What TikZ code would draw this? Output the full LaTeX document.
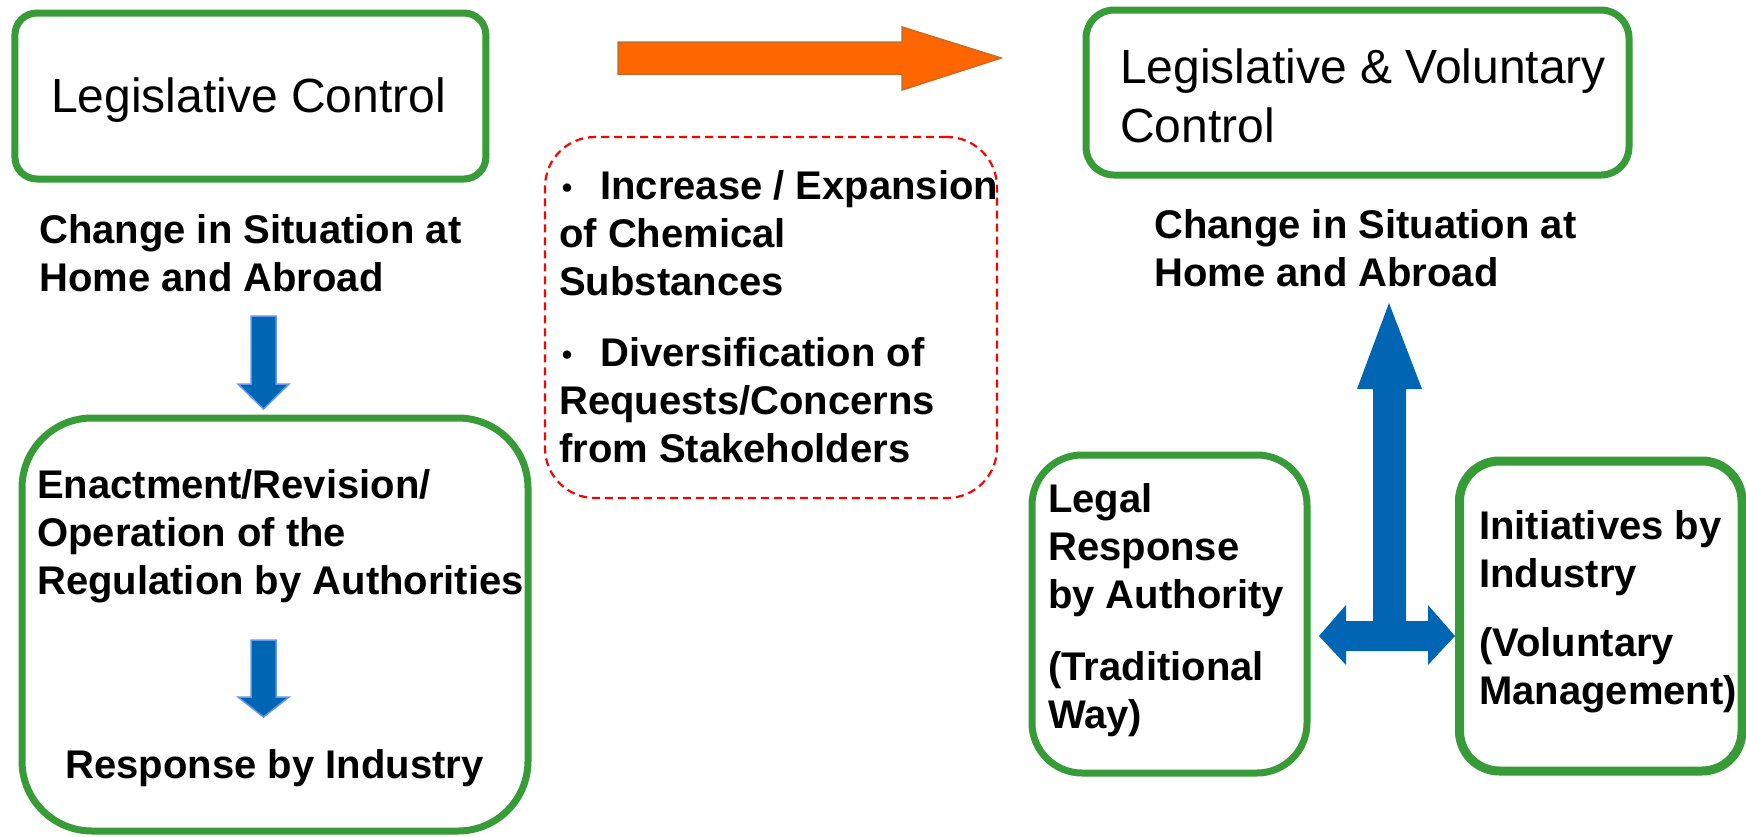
\documentclass[tikz,border=0pt]{standalone}
\usepackage{fontspec}
\setmainfont{Liberation Sans}
\newfontfamily\cjk{Noto Sans CJK JP}
\definecolor{boxgreen}{RGB}{55,155,55}
\definecolor{arrowblue}{RGB}{0,102,179}
\definecolor{arrowedge}{RGB}{100,150,240}
\definecolor{orangefill}{RGB}{255,102,0}
\definecolor{orangeedge}{RGB}{205,105,35}
\newcommand{\tl}[1]{\begin{tabular}[t]{@{}l@{}}#1\end{tabular}}
\newcommand{\bulletdot}{\makebox[41pt][l]{\hspace{-7pt}{\cjk\fontsize{30}{30}\selectfont ・}}}
\tikzset{
  gbox/.style={draw=boxgreen, line width=7pt, fill=white, inner sep=0pt},
  redbox/.style={draw=red, line width=2.2pt, dash pattern=on 8pt off 5pt, inner sep=0pt},
  boldtxt/.style={inner sep=0pt, font=\fontsize{40}{48}\selectfont\bfseries},
  regtxt/.style={inner sep=0pt, font=\fontsize{48}{58}\selectfont},
  downarrow/.style={fill=arrowblue, draw=arrowedge, line width=1.5pt, line join=miter},
  bigarrow/.style={fill=arrowblue, draw=none},
  orangearrow/.style={fill=orangefill, draw=orangeedge, line width=1.5pt, line join=miter}
}
\begin{document}
\begin{tikzpicture}[x=1pt,y=-1pt]
\useasboundingbox (0,0) rectangle (1746,836);
\fill[white] (0,0) rectangle (1746,836);

% boxes
\node[gbox, rounded corners=22pt, minimum width=471pt, minimum height=166pt] (legctrl) at (250.4,96) {};
\node[gbox, rounded corners=70pt, minimum width=506pt, minimum height=413pt] (regbox) at (275,624.5) {};
\node[gbox, rounded corners=28pt, minimum width=543pt, minimum height=165pt] (legvol) at (1357.5,92.5) {};
\node[gbox, rounded corners=50pt, minimum width=275pt, minimum height=318pt] (legal) at (1169.5,614) {};
\node[gbox, line width=9pt, rounded corners=40pt, minimum width=282.5pt, minimum height=310pt] (initiatives) at (1600.75,616) {};
\node[redbox, rounded corners=50pt, minimum width=452pt, minimum height=361pt] (factors) at (771,317.5) {};

% orange arrow
\draw[orangearrow] (618,42) -- (902,42) -- (902,27) -- (1001,58) -- (902,90) -- (902,74) -- (618,74) -- cycle;

% blue down arrows (left)
\draw[downarrow] (251,316) -- (276,316) -- (276,384) -- (289,384) -- (263.5,409) -- (238,384) -- (251,384) -- cycle;
\draw[downarrow] (251,640) -- (276,640) -- (276,697) -- (289,697) -- (263.5,717) -- (238,697) -- (251,697) -- cycle;

% blue left-right-up arrow
\fill[bigarrow] (1389,303) -- (1422,389) -- (1406,389) -- (1406,621) -- (1428,621) -- (1428,605)
  -- (1455,636) -- (1428,665) -- (1428,651) -- (1346,651) -- (1346,665) -- (1319,636)
  -- (1346,605) -- (1346,621) -- (1373,621) -- (1373,389) -- (1357,389) -- cycle;

% texts
\node[regtxt, anchor=base] (legctrltxt) at (248.5,112) {Legislative Control};
\node[boldtxt, anchor=base west] (changeL) at (39,243) {\tl{Change in Situation at\\Home and Abroad}};
\node[boldtxt, anchor=base west] (regtxt) at (37,498) {\tl{Enactment/Revision/\\[0.5pt]Operation of the\\Regulation by Authorities}};
\node[boldtxt, anchor=base] (resptxt) at (274.5,778) {Response by Industry};

\node[boldtxt, anchor=base west] (factorstxt) at (559,199) {\tl{\bulletdot Increase / Expansion\\of Chemical\\Substances\\[23pt]\bulletdot Diversification of\\Requests/Concerns\\from Stakeholders}};

\node[regtxt, anchor=base west] (legvoltxt) at (1120,83) {\tl{Legislative \& Voluntary\\[1pt]Control}};
\node[boldtxt, anchor=base west] (changeR) at (1154,238) {\tl{Change in Situation at\\Home and Abroad}};
\node[boldtxt, anchor=base west] (legaltxt) at (1048,512) {\tl{Legal\\Response\\by Authority\\[24pt](Traditional\\Way)}};
\node[boldtxt, anchor=base west] (inittxt) at (1479,539) {\tl{Initiatives by\\Industry\\[21pt](Voluntary\\Management)}};
\end{tikzpicture}
\end{document}
